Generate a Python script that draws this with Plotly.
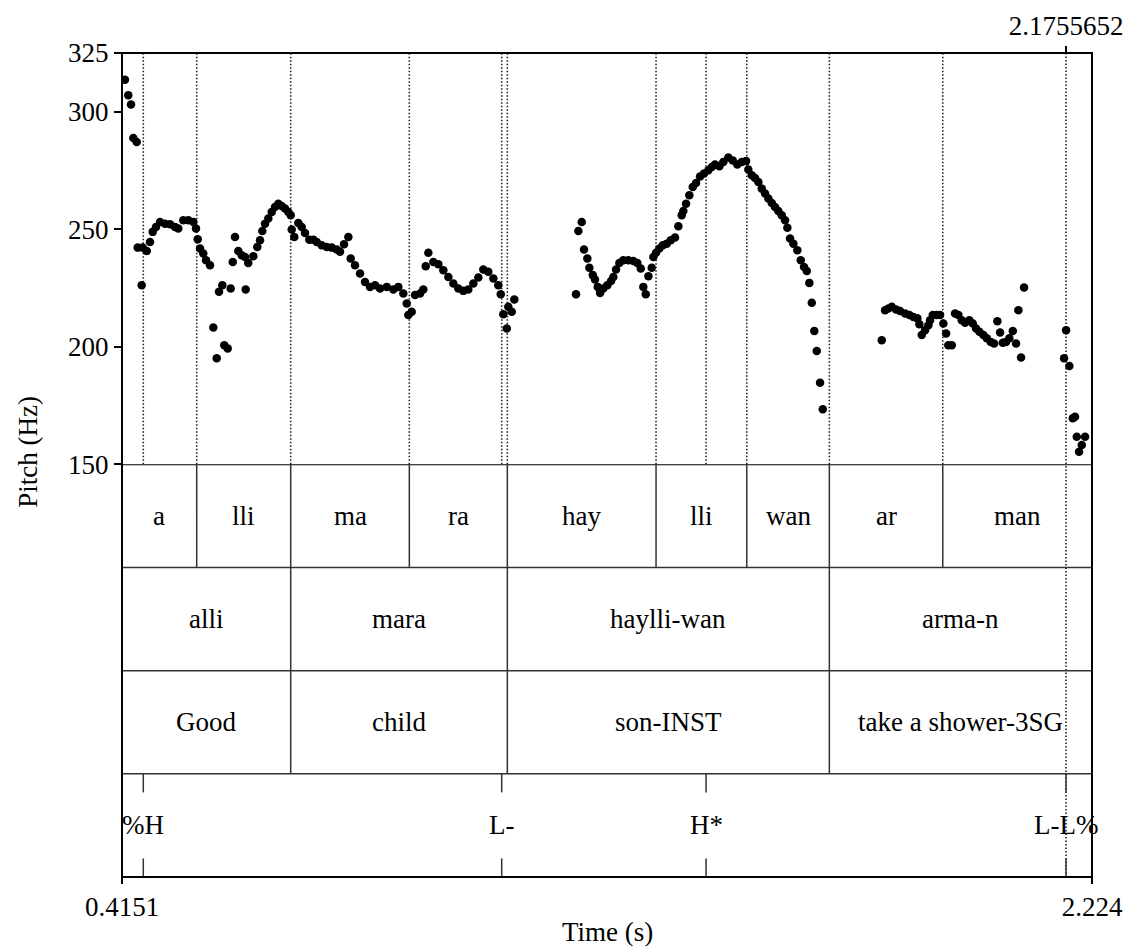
import plotly.graph_objects as go

# ---------------- data ----------------
pitch_time = [
    0.4207, 0.4268, 0.4319, 0.4362, 0.4425, 0.4444, 0.4518, 0.4537, 0.4612, 0.4673,
    0.4724, 0.4785, 0.4860, 0.4953, 0.5046, 0.5139, 0.5201, 0.5294, 0.5388, 0.5481,
    0.5531, 0.5563, 0.5606, 0.5667, 0.5718, 0.5792, 0.5854, 0.5917, 0.5960, 0.6022,
    0.6059, 0.6122, 0.6178, 0.6216, 0.6258, 0.6320, 0.6383, 0.6445, 0.6458, 0.6506,
    0.6600, 0.6674, 0.6725, 0.6768, 0.6818, 0.6880, 0.6943, 0.7004, 0.7066, 0.7129,
    0.7191, 0.7252, 0.7297, 0.7316, 0.7364, 0.7439, 0.7502, 0.7564, 0.7644, 0.7719,
    0.7782, 0.7875, 0.7969, 0.8062, 0.8155, 0.8217, 0.8291, 0.8372, 0.8416, 0.8496,
    0.8590, 0.8683, 0.8776, 0.8869, 0.8963, 0.9088, 0.9211, 0.9304, 0.9397, 0.9461,
    0.9491, 0.9554, 0.9615, 0.9709, 0.9770, 0.9815, 0.9864, 0.9957, 1.0050, 1.0143,
    1.0237, 1.0330, 1.0423, 1.0516, 1.0609, 1.0703, 1.0796, 1.0889, 1.0982, 1.1076,
    1.1169, 1.1214, 1.1262, 1.1326, 1.1355, 1.1419, 1.1467,
    1.2618, 1.2661, 1.2724, 1.2767, 1.2829, 1.2866, 1.2930, 1.2972, 1.3023, 1.3066,
    1.3127, 1.3202, 1.3271, 1.3314, 1.3364, 1.3426, 1.3500, 1.3593, 1.3687, 1.3761,
    1.3825, 1.3873, 1.3918, 1.3967, 1.4030, 1.4060, 1.4110, 1.4172, 1.4235, 1.4310,
    1.4384, 1.4464, 1.4526, 1.4589, 1.4619, 1.4670, 1.4731, 1.4795, 1.4856, 1.4931,
    1.5005, 1.5086, 1.5149, 1.5210, 1.5291, 1.5365, 1.5458, 1.5541, 1.5626, 1.5708,
    1.5789, 1.5831, 1.5895, 1.5956, 1.6018, 1.6081, 1.6143, 1.6205, 1.6268, 1.6329,
    1.6391, 1.6454, 1.6516, 1.6559, 1.6609, 1.6671, 1.6745, 1.6809, 1.6870, 1.6921,
    1.6969, 1.7014, 1.7062, 1.7107, 1.7169, 1.7219,
    1.8319, 1.8381, 1.8443, 1.8506, 1.8586, 1.8661, 1.8754, 1.8834, 1.8909, 1.8983,
    1.9021, 1.9065, 1.9127, 1.9189, 1.9220, 1.9271, 1.9345, 1.9407, 1.9468, 1.9519,
    1.9561, 1.9625, 1.9686, 1.9748, 1.9811, 1.9873, 1.9953, 2.0017, 2.0078, 2.0140,
    2.0214, 2.0278, 2.0352, 2.0414, 2.0475, 2.0526, 2.0576, 2.0638, 2.0699, 2.0763,
    2.0824, 2.0867, 2.0917, 2.0973,
    2.1719, 2.1757, 2.1818, 2.1882, 2.1924, 2.1956, 2.1999, 2.2050, 2.2111,
]
pitch_hz = [
    313.6, 307.0, 303.1, 288.8, 287.1, 242.2, 226.2, 242.2, 240.8, 244.6,
    248.9, 251.0, 253.1, 252.4, 252.1, 251.0, 250.3, 253.8, 253.8, 253.1,
    250.3, 245.8, 241.8, 239.7, 236.8, 234.7, 208.2, 195.1, 223.4, 226.2,
    200.7, 199.3, 224.8, 236.1, 246.7, 240.8, 239.0, 238.2, 224.4, 235.7,
    238.5, 242.5, 245.3, 249.3, 252.4, 254.6, 257.4, 259.5, 260.9, 259.9,
    258.8, 257.4, 256.0, 249.9, 246.7, 252.7, 251.0, 248.4, 245.6, 245.6,
    244.6, 243.2, 242.5, 242.2, 241.4, 240.4, 243.6, 246.7, 237.6, 234.7,
    231.2, 227.6, 225.5, 226.2, 224.8, 225.5, 224.4, 225.5, 222.7, 218.4,
    213.5, 214.9, 222.0, 222.7, 224.4, 234.3, 240.0, 236.1, 235.1, 232.6,
    229.7, 226.9, 224.8, 223.8, 224.4, 226.9, 229.5, 232.9, 231.9, 229.1,
    226.2, 222.4, 213.9, 207.8, 217.0, 214.9, 220.1,
    222.4, 249.3, 253.1, 241.4, 237.6, 233.6, 230.5, 228.6, 225.5, 222.9,
    224.8, 226.2, 228.0, 229.7, 232.9, 235.7, 236.8, 236.8, 236.5, 235.7,
    233.3, 225.5, 222.4, 230.0, 233.6, 238.2, 240.0, 241.8, 243.2, 243.9,
    245.3, 246.5, 251.3, 256.0, 257.8, 260.9, 264.5, 268.0, 269.7, 272.5,
    273.7, 275.1, 276.5, 277.6, 276.8, 278.6, 280.5, 279.3, 277.6, 278.6,
    279.0, 275.4, 273.0, 271.8, 270.1, 267.3, 265.2, 263.1, 261.2, 259.5,
    257.8, 256.0, 253.8, 250.7, 246.1, 243.9, 241.1, 236.8, 234.0, 232.3,
    227.2, 218.7, 206.7, 198.2, 184.7, 173.4,
    202.8, 215.6, 216.3, 217.0, 215.9, 215.2, 214.2, 213.5, 212.7, 212.1,
    209.6, 205.0, 207.1, 209.2, 211.3, 213.5, 213.5, 213.5, 209.9, 205.7,
    200.7, 200.7, 214.2, 213.5, 211.3, 210.2, 211.3, 209.9, 207.8, 206.4,
    205.0, 203.6, 202.1, 201.4, 210.9, 206.1, 201.7, 202.1, 203.6, 206.7,
    201.4, 215.6, 195.5, 225.2,
    195.1, 207.1, 191.8, 169.6, 170.2, 161.7, 155.4, 158.2, 161.7,
]

t_start = 0.4151
t_end = 2.224
cursor_time = 2.1755652

pitch_ticks = [150, 200, 250, 300, 325]

syllable_bounds = [0.4151, 0.5544, 0.7297, 0.9509, 1.1337, 1.4110, 1.5802, 1.7342, 1.9457, 2.224]
syllables = ["a", "lli", "ma", "ra", "hay", "lli", "wan", "ar", "man"]

word_bounds = [0.4151, 0.7297, 1.1337, 1.7342, 2.224]
words = ["alli", "mara", "haylli-wan", "arma-n"]
glosses = ["Good", "child", "son-INST", "take a shower-3SG"]

tone_times = [0.4548, 1.1232, 1.5043, 2.1755652]
tones = ["%H", "L-", "H*", "L-L%"]

# ---------------- figure ----------------
FONT = "Liberation Serif"
FS = 27
INK = "black"
EDGE = "#333333"
DOTC = "#222222"

fig = go.Figure()
fig.add_trace(go.Scatter(
    x=pitch_time, y=pitch_hz, mode="markers",
    marker=dict(color="black", size=8.5, line=dict(width=0)),
    xaxis="x", yaxis="y", showlegend=False, hoverinfo="x+y",
))
# dummy trace to hold the top axis
fig.add_trace(go.Scatter(x=[cursor_time], y=[None], xaxis="x2", yaxis="y",
                         mode="markers", showlegend=False, hoverinfo="skip"))

shapes = []
dot = "1.5px,2px"

# dotted lines in pitch panel: interior syllable boundaries + tone points
for b in syllable_bounds[1:-1] + tone_times[:-1]:
    shapes.append(dict(type="line", xref="x", yref="y", x0=b, x1=b, y0=150, y1=325,
                       line=dict(color=DOTC, width=1.6, dash=dot), layer="below"))
# cursor line through all tiers
shapes.append(dict(type="line", xref="x", yref="paper", x0=cursor_time, x1=cursor_time,
                   y0=0, y1=1, line=dict(color=DOTC, width=1.6, dash=dot), layer="below"))

# tier separators (y2 range 0..4, syllables tier on top)
for yy in [1, 2, 3]:
    shapes.append(dict(type="line", xref="paper", yref="y2", x0=0, x1=1, y0=yy, y1=yy,
                       line=dict(color=EDGE, width=1.5)))
shapes.append(dict(type="line", xref="paper", yref="y2", x0=0, x1=1, y0=4, y1=4,
                   line=dict(color=INK, width=2)))

# syllable tier boundaries
for b in syllable_bounds[1:-1]:
    shapes.append(dict(type="line", xref="x", yref="y2", x0=b, x1=b, y0=3, y1=4,
                       line=dict(color=EDGE, width=1.5)))
# word / gloss tier boundaries
for b in word_bounds[1:-1]:
    shapes.append(dict(type="line", xref="x", yref="y2", x0=b, x1=b, y0=1, y1=3,
                       line=dict(color=EDGE, width=1.5)))
# tone tier point ticks
for tt in tone_times:
    shapes.append(dict(type="line", xref="x", yref="y2", x0=tt, x1=tt, y0=0.82, y1=1,
                       line=dict(color=EDGE, width=1.5)))
    shapes.append(dict(type="line", xref="x", yref="y2", x0=tt, x1=tt, y0=0, y1=0.18,
                       line=dict(color=EDGE, width=1.5)))

# outer frame
shapes.append(dict(type="rect", xref="paper", yref="paper", x0=0, x1=1, y0=0, y1=1,
                   line=dict(color=INK, width=2)))

annotations = []

def mid(a, b):
    return (a + b) / 2

def label(x, y, text, xref="x", yref="y2", angle=0):
    return dict(x=x, y=y, xref=xref, yref=yref, text=text, showarrow=False,
                xanchor="center", yanchor="middle", textangle=angle,
                font=dict(family=FONT, size=FS, color=INK))

for i, s in enumerate(syllables):
    annotations.append(label(mid(syllable_bounds[i], syllable_bounds[i + 1]), 3.5, s))
for i, w in enumerate(words):
    annotations.append(label(mid(word_bounds[i], word_bounds[i + 1]), 2.5, w))
for i, g in enumerate(glosses):
    annotations.append(label(mid(word_bounds[i], word_bounds[i + 1]), 1.5, g))
for tt, lab in zip(tone_times, tones):
    annotations.append(label(tt, 0.5, lab))

annotations.append(label(-0.097, 0.516, "Pitch (Hz)", "paper", "paper", -90))
annotations.append(label(0.5, -0.067, "Time (s)", "paper", "paper"))

fig.update_layout(
    width=1126, height=946,
    margin=dict(l=122, r=34, t=53, b=69, autoexpand=False),
    paper_bgcolor="white", plot_bgcolor="white",
    showlegend=False,
    font=dict(family=FONT, size=FS, color=INK),
    xaxis=dict(domain=[0, 1], anchor="y2", range=[t_start, t_end], automargin=False,
               showgrid=False, zeroline=False, showline=False,
               ticks="outside", ticklen=6, tickwidth=1.5, tickcolor=INK,
               tickvals=[t_start, t_end], ticktext=["0.4151", "2.224"],
               tickfont=dict(family=FONT, size=FS, color=INK)),
    xaxis2=dict(overlaying="x", matches="x", side="top", anchor="y",
                range=[t_start, t_end], automargin=False,
                showgrid=False, zeroline=False, showline=False,
                ticks="outside", ticklen=6, tickwidth=1.5, tickcolor=INK,
                tickvals=[cursor_time], ticktext=["2.1755652"],
                tickfont=dict(family=FONT, size=FS, color=INK)),
    yaxis=dict(domain=[0.5008, 1], anchor="x", range=[150, 325], automargin=False,
               showgrid=False, zeroline=False, showline=False,
               ticks="outside", ticklen=7, tickwidth=1.5, tickcolor=INK,
               tickvals=pitch_ticks, ticktext=[str(v) for v in pitch_ticks],
               tickfont=dict(family=FONT, size=FS, color=INK)),
    yaxis2=dict(domain=[0, 0.5008], anchor="x", range=[0, 4], visible=False),
    shapes=shapes,
    annotations=annotations,
)

fig.write_html("out.html")
